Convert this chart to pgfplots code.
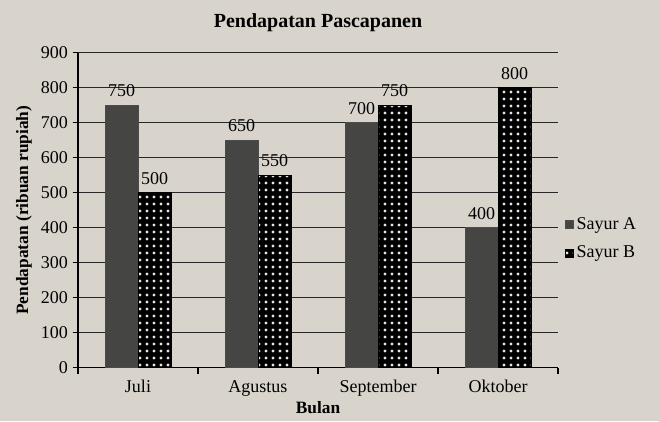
\documentclass[border=0pt]{standalone}
\usepackage{pgfplots}
\pgfplotsset{compat=1.18}
\usepackage{fontspec}
\setmainfont{Liberation Serif}
\usetikzlibrary{patterns.meta}
\usepackage{xcolor}
\definecolor{paper}{HTML}{D8D4CC}
\definecolor{barA}{HTML}{454543}
\pagecolor{paper}
\begin{document}
\begin{tikzpicture}
\path[use as bounding box] (-58.5pt,-40pt) rectangle (435.75pt,275.75pt);
\begin{axis}[
  at={(0,0)}, anchor=south west,
  scale only axis,
  width=360pt, height=236.25pt,
  ybar=0pt, bar width=24.75pt,
  xmin=0.5, xmax=4.5, ymin=0, ymax=900,
  xtick={1,2,3,4},
  xticklabels={Juli,Agustus,September,Oktober},
  minor xtick={0.5,1.5,2.5,3.5,4.5},
  x tick style={draw=none},
  minor x tick style={draw=black, line width=1pt},
  minor tick length=5pt,
  ytick={0,100,...,900},
  tick align=outside,
  y tick style={black, line width=1pt},
  major tick length=4pt,
  axis x line*=bottom, axis y line*=left,
  axis line style={black, line width=1pt, -},
  ymajorgrids, grid style={black!85, line width=0.9pt},
  /pgf/number format/assume math mode=true,
  tick label style={font=\fontsize{13.5}{16}\selectfont},
  title={\bfseries Pendapatan Pascapanen},
  title style={font=\fontsize{15}{18}\selectfont, yshift=6pt},
  xlabel={\bfseries Bulan},
  ylabel={\bfseries Pendapatan (ribuan rupiah)},
  label style={font=\fontsize{13}{15}\selectfont},
  xlabel style={yshift=3pt},
  ylabel style={yshift=0pt},
  xticklabel style={yshift=-2pt},
  nodes near coords,
  nodes near coords style={font=\fontsize{13.5}{16}\selectfont, black, inner sep=2pt, yshift=4pt},
  legend style={at={(1.015,0.41)}, anchor=west, draw=none, fill=none,
    font=\fontsize{13.5}{16}\selectfont, row sep=7pt, inner sep=0pt},
  legend cell align=left,
  legend image code/.code={\fill[#1] (0pt,-3pt) rectangle (6pt,3pt);},
]
\addplot[draw=black!70, fill=barA] coordinates {(1,750) (2,650) (3,700) (4,400)};
\addplot[draw=black, fill=black, postaction={pattern={Dots[radius=1.2pt, distance=5.25pt]}, pattern color=white!90!black}] coordinates {(1,500) (2,550) (3,750) (4,800)};
\legend{Sayur A, Sayur B}
\end{axis}
\end{tikzpicture}
\end{document}
